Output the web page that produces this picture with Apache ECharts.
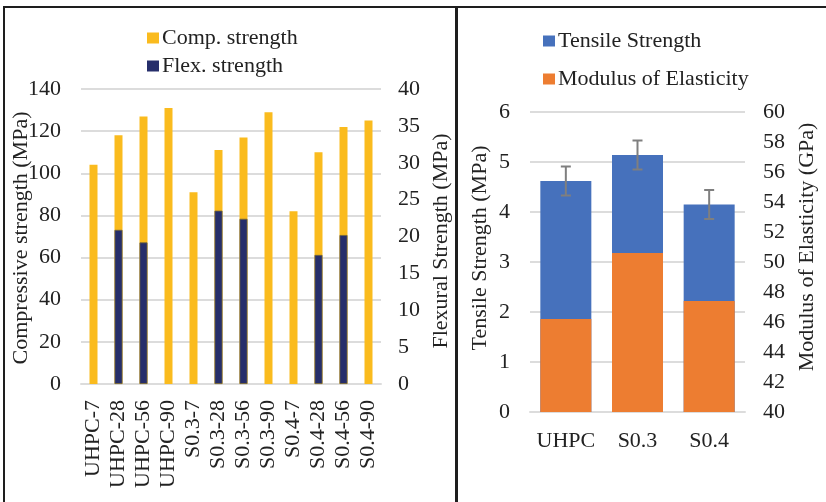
<!DOCTYPE html>
<html>
<head>
<meta charset="utf-8">
<script src="https://cdn.jsdelivr.net/npm/echarts@6/dist/echarts.min.js"></script>
<style>html,body{margin:0;padding:0;background:#fff;}#c{width:826px;height:502px;}</style>
</head>
<body>
<div id="c"></div>
<script>
// ---- Data ----
var mixCategories = ['UHPC-7','UHPC-28','UHPC-56','UHPC-90','S0.3-7','S0.3-28','S0.3-56','S0.3-90','S0.4-7','S0.4-28','S0.4-56','S0.4-90'];
var compStrength = [104, 118, 127, 131, 91, 111, 117, 129, 82, 110, 122, 125];
var flexStrength = ['-', 20.9, 19.2, '-', '-', 23.5, 22.4, '-', '-', 17.5, 20.2, '-'];
var groupCategories = ['UHPC', 'S0.3', 'S0.4'];
var tensileStrength = [4.62, 5.14, 4.15];
var tensileError = [0.29, 0.29, 0.29];
var modulusElasticity = [46.2, 50.6, 47.4];

var FONT = 'Liberation Serif';
var TXT = '#222222';
var GRIDC = '#dcdcdc';

var chart = echarts.init(document.getElementById('c'), null, {renderer: 'canvas'});

function valAxis(gridIndex, min, max, interval, pos, split, margin) {
  return {
    type: 'value', gridIndex: gridIndex, min: min, max: max, interval: interval, position: pos,
    axisLine: {show: false}, axisTick: {show: false},
    axisLabel: {fontFamily: FONT, fontSize: 22, color: TXT, margin: margin},
    splitLine: {show: split, lineStyle: {color: GRIDC, width: 2}}
  };
}

var option = {
  backgroundColor: '#fff',
  animation: false,
  grid: [
    {left: 81, top: 89, width: 300, height: 295},
    {left: 530, top: 112, width: 215, height: 300}
  ],
  legend: [
    {
      data: [
        {name: 'Comp. strength'},
        {name: 'Flex. strength', itemStyle: {borderWidth: 0}}
      ],
      orient: 'vertical', left: 147, top: 27,
      itemWidth: 12, itemHeight: 11, itemGap: 6, icon: 'rect', padding: 0,
      textStyle: {fontFamily: FONT, fontSize: 22, color: TXT, padding: [0, 0, 0, -2]}
    },
    {
      data: ['Tensile Strength', 'Modulus of Elasticity'], orient: 'vertical', left: 543, top: 30,
      itemWidth: 12, itemHeight: 11, itemGap: 16, icon: 'rect', padding: 0,
      textStyle: {fontFamily: FONT, fontSize: 22, color: TXT, padding: [0, 0, 0, -2]}
    }
  ],
  xAxis: [
    {
      type: 'category', gridIndex: 0, data: mixCategories,
      axisLine: {lineStyle: {color: GRIDC, width: 2}}, axisTick: {show: false},
      axisLabel: {interval: 0, rotate: 90, fontFamily: FONT, fontSize: 22, color: TXT, margin: 16}
    },
    {
      type: 'category', gridIndex: 1, data: groupCategories,
      axisLine: {lineStyle: {color: GRIDC, width: 2}}, axisTick: {show: false},
      axisLabel: {interval: 0, fontFamily: FONT, fontSize: 22, color: TXT, margin: 18}
    }
  ],
  yAxis: [
    valAxis(0, 0, 140, 20, 'left', true, 20),
    valAxis(0, 0, 40, 5, 'right', false, 17),
    valAxis(1, 0, 6, 1, 'left', true, 20),
    valAxis(1, 40, 60, 2, 'right', false, 18)
  ],
  series: [
    {
      name: 'Comp. strength', type: 'bar', xAxisIndex: 0, yAxisIndex: 0, data: compStrength,
      barWidth: 8, itemStyle: {color: '#FABB1E'}
    },
    {
      name: 'Flex. strength', type: 'bar', xAxisIndex: 0, yAxisIndex: 1, data: flexStrength,
      barWidth: 8, barGap: '-100%', itemStyle: {color: '#262E6B', borderColor: '#6f6540', borderWidth: 0.8}
    },
    {
      name: 'Tensile Strength', type: 'bar', xAxisIndex: 1, yAxisIndex: 2, data: tensileStrength,
      barWidth: 51, itemStyle: {color: '#4671BC'}
    },
    {
      name: 'Modulus of Elasticity', type: 'bar', xAxisIndex: 1, yAxisIndex: 3, data: modulusElasticity,
      barWidth: 51, barGap: '-100%', clip: true, itemStyle: {color: '#ED7D31'}
    },
    {
      type: 'custom', xAxisIndex: 1, yAxisIndex: 2, z: 5,
      data: tensileStrength.map(function (v, i) { return [i, v - tensileError[i], v + tensileError[i]]; }),
      renderItem: function (params, api) {
        var lo = api.coord([api.value(0), api.value(1)]);
        var hi = api.coord([api.value(0), api.value(2)]);
        var hw = 5;
        var st = {stroke: '#7f7f7f', lineWidth: 2};
        return {
          type: 'group', children: [
            {type: 'line', shape: {x1: hi[0], y1: hi[1], x2: lo[0], y2: lo[1]}, style: st},
            {type: 'line', shape: {x1: hi[0] - hw, y1: hi[1], x2: hi[0] + hw, y2: hi[1]}, style: st},
            {type: 'line', shape: {x1: lo[0] - hw, y1: lo[1], x2: lo[0] + hw, y2: lo[1]}, style: st}
          ]
        };
      }
    }
  ],
  graphic: [
    {type: 'rect', shape: {x: 3, y: 6, width: 823, height: 2}, style: {fill: '#1e1e1e'}, silent: true},
    {type: 'rect', shape: {x: 3, y: 6, width: 2, height: 496}, style: {fill: '#1e1e1e'}, silent: true},
    {type: 'rect', shape: {x: 455, y: 6, width: 3, height: 496}, style: {fill: '#1e1e1e'}, silent: true},
    {type: 'text', x: 21, y: 238, rotation: Math.PI / 2,
      style: {text: 'Compressive strength (MPa)', fontFamily: FONT, fontSize: 22, fill: TXT, align: 'center', verticalAlign: 'middle'}},
    {type: 'text', x: 441, y: 241, rotation: Math.PI / 2,
      style: {text: 'Flexural Strength (MPa)', fontFamily: FONT, fontSize: 22, fill: TXT, align: 'center', verticalAlign: 'middle'}},
    {type: 'text', x: 480, y: 248, rotation: Math.PI / 2,
      style: {text: 'Tensile Strength (MPa)', fontFamily: FONT, fontSize: 22, fill: TXT, align: 'center', verticalAlign: 'middle'}},
    {type: 'text', x: 807, y: 247, rotation: Math.PI / 2,
      style: {text: 'Modulus of Elasticity (GPa)', fontFamily: FONT, fontSize: 22, fill: TXT, align: 'center', verticalAlign: 'middle'}}
  ]
};
chart.setOption(option);
</script>
</body>
</html>
